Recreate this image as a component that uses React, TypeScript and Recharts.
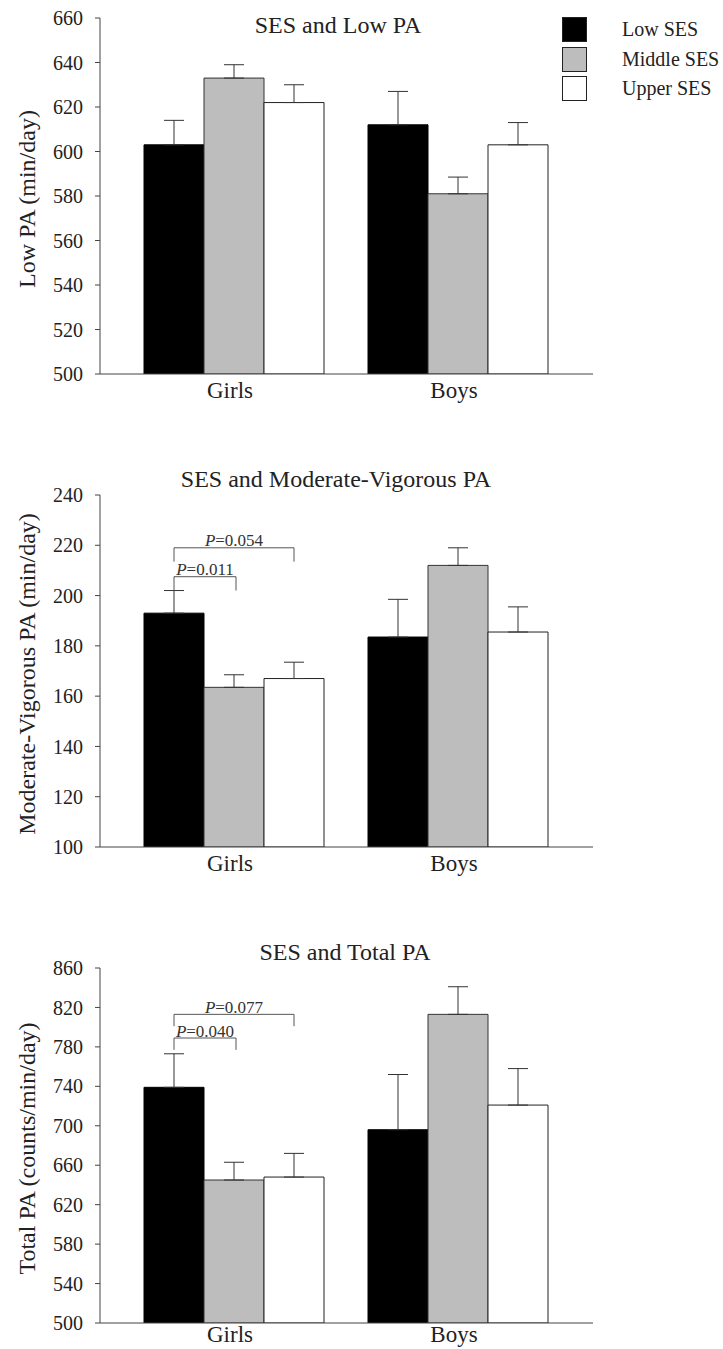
import React from "react";
import {
  BarChart,
  Bar,
  XAxis,
  YAxis,
  ErrorBar,
  Legend,
  ReferenceLine,
} from "recharts";

const FONT = '"Liberation Serif", "Times New Roman", serif';

const groups = ["Girls", "Boys"];
const sesLevels = ["Low SES", "Middle SES", "Upper SES"];
const sesFills = ["#000000", "#bdbdbd", "#ffffff"];

// Low PA (min/day): mean and SE, Girls / Boys
const lowPaLow = [603, 612];
const lowPaMiddle = [633, 581];
const lowPaUpper = [622, 603];
const lowPaLowSe = [11, 15];
const lowPaMiddleSe = [6, 7.5];
const lowPaUpperSe = [8, 10];
const lowPaTicks = [500, 520, 540, 560, 580, 600, 620, 640, 660];

// Moderate-vigorous PA (min/day)
const mvpaLow = [193, 183.5];
const mvpaMiddle = [163.5, 212];
const mvpaUpper = [167, 185.5];
const mvpaLowSe = [9, 15];
const mvpaMiddleSe = [5, 7];
const mvpaUpperSe = [6.5, 10];
const mvpaTicks = [100, 120, 140, 160, 180, 200, 220, 240];
const mvpaBrackets = [
  { label: "0.054", from: 0, to: 2, y: 219, legEnd: 213.5 },
  { label: "0.011", from: 0, to: 1, y: 207.5, legEnd: 202 },
];

// Total PA (counts/min/day)
const totalLow = [739, 696];
const totalMiddle = [645, 813];
const totalUpper = [648, 721];
const totalLowSe = [34, 56];
const totalMiddleSe = [18, 28];
const totalUpperSe = [24, 37];
const totalTicks = [500, 540, 580, 620, 660, 700, 740, 780, 820, 860];
const totalBrackets = [
  { label: "0.077", from: 0, to: 2, y: 813, legEnd: 801 },
  { label: "0.040", from: 0, to: 1, y: 789, legEnd: 777 },
];

const BAR_W = 60;
const AXIS = "#444";

function buildRows(low, mid, up, lowSe, midSe, upSe) {
  return groups.map((g, i) => ({
    group: g,
    low: low[i],
    middle: mid[i],
    upper: up[i],
    lowErr: [0, lowSe[i]],
    middleErr: [0, midSe[i]],
    upperErr: [0, upSe[i]],
  }));
}

function bracketShape(b) {
  return (p: any) => {
    const cx = p.x1;
    const xa = cx + (b.from - 1) * BAR_W;
    const xb = cx + (b.to - 1) * BAR_W + (b.to === 1 ? 2 : 0);
    const top = p.y1;
    const bottom = p.y2;
    return (
      <g>
        <path
          d={`M${xa},${bottom}V${top}H${xb}V${bottom}`}
          fill="none"
          stroke="#555"
          strokeWidth={1}
        />
        <text
          x={(xa + xb) / 2}
          y={top - 1.5}
          textAnchor="middle"
          fontSize={17}
          fontFamily={FONT}
          fill="#333"
        >
          <tspan fontStyle="italic">P</tspan>={b.label}
        </text>
      </g>
    );
  };
}

function SesLegend({ payload }: any) {
  const items = payload && payload.length ? payload : [];
  return (
    <div style={{ fontFamily: FONT }}>
      {items.map((it, i) => (
        <div
          key={it.value}
          style={{ display: "flex", alignItems: "center", height: 25, marginBottom: 4.5 }}
        >
          <div
            style={{
              width: 23,
              height: 23,
              background: sesFills[i],
              border: "1px solid #222",
            }}
          />
          <span style={{ marginLeft: 35, fontSize: 20, color: "#222", whiteSpace: "nowrap" }}>
            {it.value}
          </span>
        </div>
      ))}
    </div>
  );
}

function Panel({
  rows,
  ticks,
  yLabel,
  title,
  titleX,
  titleTop,
  top,
  height,
  marginTop,
  xAxisHeight,
  marginBottom,
  xTickMargin,
  brackets,
  legend,
}: any) {
  const domain = [ticks[0], ticks[ticks.length - 1]];
  return (
    <div style={{ position: "absolute", left: 0, top, width: 723, height }}>
      <BarChart
        width={723}
        height={height}
        data={rows}
        margin={{ top: marginTop, right: 130, bottom: marginBottom, left: 0 }}
        barGap={0}
        barCategoryGap={22}
        style={{ fontFamily: FONT }}
      >
        <XAxis
          dataKey="group"
          tickLine={false}
          tickSize={0}
          tickMargin={xTickMargin}
          height={xAxisHeight}
          padding={{ left: 22, right: 23 }}
          axisLine={{ stroke: AXIS }}
          tick={{ fontSize: 23, fill: "#222", fontFamily: FONT, dx: -4 }}
        />
        <YAxis
          width={100}
          domain={domain}
          ticks={ticks}
          interval={0}
          allowDataOverflow
          tickSize={5}
          tickMargin={12}
          axisLine={{ stroke: AXIS }}
          tickLine={{ stroke: AXIS }}
          tick={{ fontSize: 20, fill: "#222", fontFamily: FONT }}
          label={{
            content: ({ viewBox }: any) => {
              const cx = 35;
              const cy = viewBox.y + viewBox.height / 2 + 3;
              return (
                <text
                  x={cx}
                  y={cy}
                  transform={`rotate(-90 ${cx} ${cy})`}
                  textAnchor="middle"
                  fontSize={24}
                  fontFamily={FONT}
                  fill="#222"
                >
                  {yLabel}
                </text>
              );
            },
          }}
        />
        <Bar dataKey="low" name={sesLevels[0]} fill={sesFills[0]} stroke="#000" strokeWidth={1} isAnimationActive={false}>
          <ErrorBar dataKey="lowErr" direction="y" width={10} stroke="#333" strokeWidth={1} isAnimationActive={false} />
        </Bar>
        <Bar dataKey="middle" name={sesLevels[1]} fill={sesFills[1]} stroke="#333" strokeWidth={1} isAnimationActive={false}>
          <ErrorBar dataKey="middleErr" direction="y" width={10} stroke="#333" strokeWidth={1} isAnimationActive={false} />
        </Bar>
        <Bar dataKey="upper" name={sesLevels[2]} fill={sesFills[2]} stroke="#222" strokeWidth={1} isAnimationActive={false}>
          <ErrorBar dataKey="upperErr" direction="y" width={10} stroke="#333" strokeWidth={1} isAnimationActive={false} />
        </Bar>
        {(brackets || []).map((b) => (
          <ReferenceLine
            key={b.label}
            segment={[
              { x: "Girls", y: b.y },
              { x: "Girls", y: b.legEnd },
            ]}
            ifOverflow="visible"
            shape={bracketShape(b)}
          />
        ))}
        {legend && (
          <Legend
            layout="vertical"
            align="center"
            verticalAlign="middle"
            wrapperStyle={{ top: 17, left: 562, width: 161 }}
            content={(props: any) => <SesLegend payload={props.payload} />}
          />
        )}
      </BarChart>
      <div
        style={{
          position: "absolute",
          left: titleX,
          top: titleTop,
          transform: "translateX(-50%)",
          fontFamily: FONT,
          fontSize: 24,
          lineHeight: "24px",
          color: "#222",
          whiteSpace: "nowrap",
        }}
      >
        {title}
      </div>
    </div>
  );
}

export default function App() {
  const lowRows = buildRows(lowPaLow, lowPaMiddle, lowPaUpper, lowPaLowSe, lowPaMiddleSe, lowPaUpperSe);
  const mvpaRows = buildRows(mvpaLow, mvpaMiddle, mvpaUpper, mvpaLowSe, mvpaMiddleSe, mvpaUpperSe);
  const totalRows = buildRows(totalLow, totalMiddle, totalUpper, totalLowSe, totalMiddleSe, totalUpperSe);

  return (
    <div
      style={{
        position: "absolute",
        left: 0,
        top: 0,
        width: 723,
        height: 1349,
        overflow: "hidden",
        background: "#fff",
      }}
    >
      <Panel
        rows={lowRows}
        ticks={lowPaTicks}
        yLabel="Low PA (min/day)"
        title="SES and Low PA"
        titleX={338}
        titleTop={13}
        top={0}
        height={420}
        marginTop={18}
        xAxisHeight={30}
        marginBottom={16}
        xTickMargin={8}
        legend
      />
      <Panel
        rows={mvpaRows}
        ticks={mvpaTicks}
        yLabel="Moderate-Vigorous PA (min/day)"
        title="SES and Moderate-Vigorous PA"
        titleX={336}
        titleTop={27}
        top={440}
        height={453}
        marginTop={55}
        xAxisHeight={30}
        marginBottom={16}
        xTickMargin={8}
        brackets={mvpaBrackets}
      />
      <Panel
        rows={totalRows}
        ticks={totalTicks}
        yLabel="Total PA (counts/min/day)"
        title="SES and Total PA"
        titleX={345}
        titleTop={40}
        top={900}
        height={449}
        marginTop={68}
        xAxisHeight={26}
        marginBottom={0}
        xTickMargin={3}
        brackets={totalBrackets}
      />
    </div>
  );
}
